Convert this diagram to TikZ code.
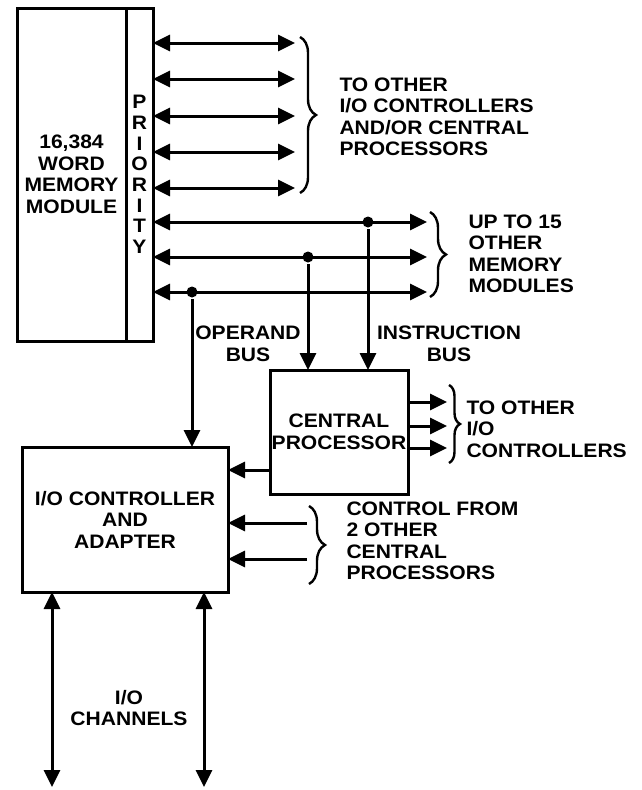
\documentclass[tikz,border=0pt]{standalone}
\usepackage{fontspec}
\setmainfont{Liberation Sans}[FakeStretch=1.08]
\usepackage{tikz}
\usetikzlibrary{arrows.meta,positioning,decorations.pathreplacing}

\begin{document}
\begin{tikzpicture}[x=1pt,y=-1pt,line width=3pt,
  font=\fontsize{19.5}{21.5}\selectfont\bfseries,
  box/.style={draw,rectangle,inner sep=0pt,outer sep=0pt,align=center},
  tip/.style={-{Triangle[length=17pt,width=16pt]}},
  bus/.style={{Triangle[length=17pt,width=16pt]}-{Triangle[length=17pt,width=16pt]}},
  joint/.style={circle,fill,inner sep=0pt,minimum size=11pt},
  brc/.style={decorate,decoration={brace,amplitude=#1},line width=2.4pt},
  lbl/.style={anchor=west,align=left,inner sep=0pt}]
  \useasboundingbox (0,0) rectangle (641,790);
  % memory module with its priority column
  \node[box,minimum width=109pt,minimum height=333pt] (mem) at (71.5,174.5)
    {16,384\\WORD\\MEMORY\\MODULE};
  \node[box,minimum width=27pt,minimum height=333pt,right=0pt of mem,
    font=\fontsize{19.5}{20.7}\selectfont\bfseries] (prio) {P\\R\\I\\O\\R\\I\\T\\Y};
  % processor and i/o controller
  \node[box,minimum width=138pt,minimum height=124pt] (cpu) at (339,432)
    {CENTRAL\\PROCESSOR};
  \node[box,minimum width=206pt,minimum height=145pt] (ioc) at (125,519.5)
    {I/O CONTROLLER\\AND\\ADAPTER};
  % ports to other controllers / processors
  \foreach \y [count=\i] in {43,79,116,152,188}{
    \coordinate (o\i) at (295,\y);
    \draw[bus] (prio.east |- o\i) -- (o\i);}
  % ports to other memory modules
  \foreach \y [count=\i] in {222,257,292}{
    \coordinate (m\i) at (427,\y);
    \draw[bus] (prio.east |- m\i) -- (m\i);}
  \node[joint] (jins) at (368,222) {};
  \node[joint] (jopd) at (308,257) {};
  \node[joint] (jio) at (192,292) {};
  \draw[tip] (jins) -- (jins |- cpu.north);
  \draw[tip] (jopd) -- (jopd |- cpu.north);
  \draw[tip] (jio) -- (jio |- ioc.north);
  % cpu outputs
  \coordinate (c0) at (270,470);
  \draw[tip] (c0) -- (c0 -| ioc.east);
  \foreach \y [count=\i] in {402,426,448}{
    \coordinate (t\i) at (447,\y);
    \draw[tip] (cpu.east |- t\i) -- (t\i);}
  % control from other processors
  \coordinate (k1) at (307,523);
  \coordinate (k2) at (307,559);
  \draw[tip] (k1) -- (k1 -| ioc.east);
  \draw[tip] (k2) -- (k2 -| ioc.east);
  % i/o channels
  \coordinate (ch1) at (52,787);
  \coordinate (ch2) at (204,787);
  \draw[bus] (ch1 |- ioc.south) -- (ch1);
  \draw[bus] (ch2 |- ioc.south) -- (ch2);
  % braces
  \draw[brc=16pt] (300,37) -- (300,193);
  \draw[brc=16pt] (430,212) -- (430,297);
  \draw[brc=11pt] (449,385) -- (449,463);
  \draw[brc=16pt] (309,506) -- (309,584);
  % labels
  \node[lbl] (lothers) at (338,117) {TO OTHER\\I/O CONTROLLERS\\AND/OR CENTRAL\\PROCESSORS};
  \node[lbl] (lmem) at (467,254) {UP TO 15\\OTHER\\MEMORY\\MODULES};
  \node[lbl] (lcpuio) at (465,429) {TO OTHER\\I/O\\CONTROLLERS};
  \node[lbl] (lctrl) at (345,541) {CONTROL FROM\\2 OTHER\\CENTRAL\\PROCESSORS};
  \node[align=center,inner sep=0pt] (lopd) at (248,344) {OPERAND\\BUS};
  \node[align=center,inner sep=0pt] (lins) at (449,344) {INSTRUCTION\\BUS};
  \node[align=center,inner sep=0pt] (lchan) at (129,708) {I/O\\CHANNELS};
\end{tikzpicture}
\end{document}
